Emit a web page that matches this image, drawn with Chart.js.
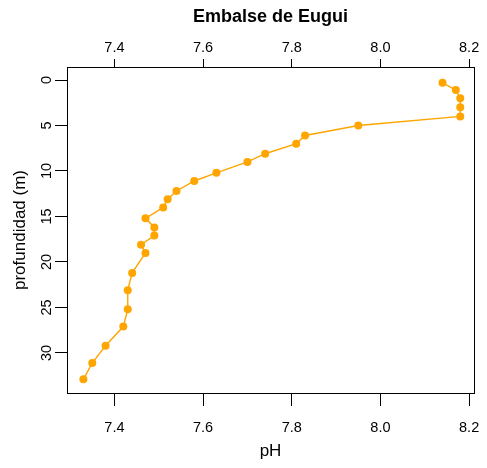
<!DOCTYPE html>
<html>
<head>
<meta charset="utf-8">
<script src="https://cdn.jsdelivr.net/npm/chart.js@4/dist/chart.umd.min.js"></script>
<style>
  body { margin: 0; background: #fff; }
</style>
</head>
<body>
<canvas id="chart" width="487" height="468"></canvas>
<script>
// depth profile
const depth = [0.3, 1.1, 2, 3, 4, 5, 6.1, 7, 8.1, 9, 10.2, 11.1, 12.2, 13.1, 14, 15.2,
               16.2, 17.1, 18.1, 19, 21.2, 23.1, 25.2, 27.1, 29.2, 31.1, 32.9]
const ph = [8.14, 8.17, 8.18, 8.18, 8.18, 7.95, 7.83, 7.81, 7.74, 7.70, 7.63, 7.58, 7.54, 7.52, 7.51, 7.47,
            7.49, 7.49, 7.46, 7.47, 7.44, 7.43, 7.43, 7.42, 7.38, 7.35, 7.33]

const FONT = 'Liberation Sans, Arial, sans-serif'
const ORANGE = '#FFA500'

// draw the closed box round the plot area, like base R's box()
const boxPlugin = {
    id: 'box',
    afterDraw(chart) {
        const { ctx, chartArea: a } = chart
        ctx.save()
        ctx.strokeStyle = '#000'
        ctx.lineWidth = 1
        ctx.strokeRect(a.left + 0.5, a.top + 0.5, a.right - a.left, a.bottom - a.top)
        ctx.restore()
    }
}

const xTicks = {
    stepSize: 0.2,
    includeBounds: false,
    color: '#000',
    font: { family: FONT, size: 14.5 },
    callback: v => v.toFixed(1)
}

// fixed axis sizes, no extra room for overhanging labels
const fixX = h => s => { s.height = h; s.paddingLeft = 0; s.paddingRight = 0 }

new Chart(document.getElementById('chart'), {
    type: 'scatter',
    data: {
        datasets: [{
            data: ph.map((p, i) => ({ x: p, y: depth[i] })),
            showLine: true,
            borderColor: ORANGE,
            backgroundColor: ORANGE,
            borderWidth: 1.4,
            pointRadius: 4,
            pointBorderWidth: 0,
            xAxisID: 'x',
            yAxisID: 'y'
        }]
    },
    options: {
        responsive: false,
        animation: false,
        devicePixelRatio: 1,
        layout: { padding: { left: 0, right: 13, top: 0, bottom: 0 } },
        plugins: {
            legend: { display: false },
            tooltip: { enabled: false }
        },
        scales: {
            x: {
                type: 'linear',
                position: 'bottom',
                min: 7.293,
                max: 8.211,
                ticks: { ...xTicks, padding: 13 },
                grid: { drawOnChartArea: false, tickLength: 13, color: '#000' },
                border: { display: true, color: '#000' },
                title: {
                    display: true,
                    text: 'pH',
                    color: '#000',
                    font: { family: FONT, size: 17 },
                    padding: { top: 0, bottom: 6 }
                },
                afterFit: fixX(75)
            },
            x2: {
                type: 'linear',
                position: 'top',
                min: 7.293,
                max: 8.211,
                ticks: { ...xTicks, padding: 2 },
                grid: { drawOnChartArea: false, tickLength: 8, color: '#000' },
                border: { display: true, color: '#000' },
                title: {
                    display: true,
                    text: 'Embalse de Eugui',
                    color: '#000',
                    font: { family: FONT, size: 18, weight: 'bold' },
                    padding: { top: 6, bottom: 0 }
                },
                afterFit: fixX(67)
            },
            y: {
                type: 'linear',
                position: 'left',
                reverse: true,
                min: -1.43,
                max: 34.4,
                ticks: {
                    stepSize: 5,
                    includeBounds: false,
                    color: '#000',
                    font: { family: FONT, size: 14.5 },
                    minRotation: 90,
                    maxRotation: 90,
                    crossAlign: 'center',
                    padding: 0
                },
                grid: { drawOnChartArea: false, tickLength: 12, color: '#000' },
                border: { display: true, color: '#000' },
                title: {
                    display: true,
                    text: 'profundidad (m)',
                    color: '#000',
                    font: { family: FONT, size: 17 },
                    padding: { top: 10, bottom: 0 }
                },
                afterFit: s => { s.width = 67; s.paddingTop = 0; s.paddingBottom = 0 }
            }
        }
    },
    plugins: [boxPlugin]
})
</script>
</body>
</html>
